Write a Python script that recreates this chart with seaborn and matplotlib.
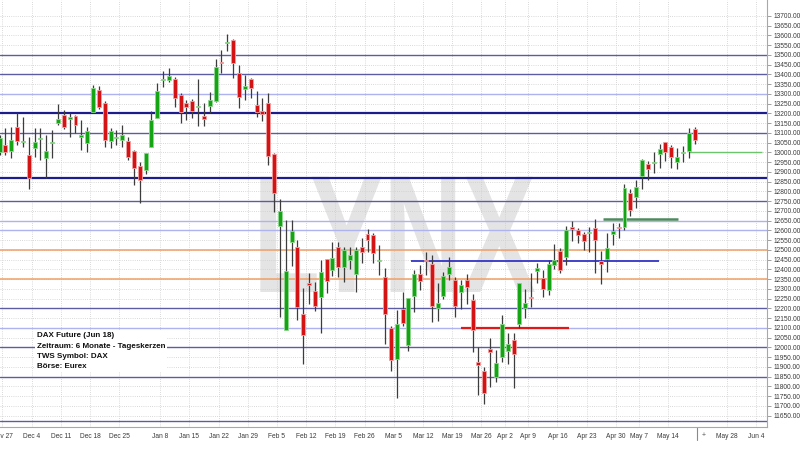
import numpy as np
import pandas as pd
import matplotlib
matplotlib.use("Agg")
import matplotlib.pyplot as plt
import seaborn as sns
from matplotlib.patheffects import AbstractPathEffect
from matplotlib.transforms import Affine2D, blended_transform_factory

# ---------------- data ----------------
start_date = "2017-11-24"
end_calendar = "2018-06-15"
holidays = ["2017-12-25", "2017-12-26", "2018-01-01", "2018-03-30", "2018-04-02", "2018-05-01"]

opens = [13004, 13038, 13008, 13133, 13056, 12987, 13021, 13068, 12973, 13047,
         13151, 13192, 13172, 13187, 13078, 13047, 13209, 13320, 13252, 13059,
         13073, 13064, 13059, 13009, 12932, 12910, 13030, 13179, 13374, 13372,
         13377, 13295, 13256, 13266, 13233, 13187, 13240, 13266, 13464, 13560,
         13577, 13406, 13327, 13375, 13244, 13213, 13256, 12992, 12623, 12090,
         12539, 12514, 12172, 12333, 12292, 12261, 12452, 12398, 12514, 12415,
         12449, 12377, 12514, 12580, 12577, 12442, 12363, 12102, 11941, 12196,
         12013, 12264, 12375, 12449, 12426, 12201, 12264, 12375, 12346, 12286,
         12346, 12244, 11927, 11881, 11992, 11847, 11950, 11984, 12038, 12119,
         12201, 12257, 12394, 12355, 12295, 12423, 12497, 12466, 12620, 12603,
         12582, 12587, 12614, 12445, 12455, 12580, 12619, 12620, 12791, 12770,
         12881, 12939, 12948, 12991, 13052, 13030, 12950, 12996, 13009, 13120]
highs = [13090, 13124, 13133, 13201, 13184, 13081, 13124, 13124, 13090, 13115,
         13249, 13218, 13201, 13192, 13167, 13133, 13345, 13340, 13264, 13124,
         13115, 13141, 13078, 13012, 12953, 12998, 13213, 13355, 13418, 13432,
         13389, 13303, 13269, 13273, 13377, 13256, 13312, 13478, 13526, 13606,
         13580, 13449, 13397, 13380, 13317, 13278, 13307, 12995, 12760, 12654,
         12654, 12551, 12303, 12384, 12338, 12449, 12455, 12539, 12539, 12514,
         12514, 12514, 12560, 12608, 12585, 12526, 12409, 12110, 12192, 12286,
         12255, 12397, 12423, 12488, 12474, 12332, 12389, 12462, 12363, 12346,
         12375, 12274, 12004, 11902, 12047, 11987, 12167, 12073, 12073, 12332,
         12300, 12380, 12432, 12398, 12449, 12531, 12509, 12625, 12650, 12611,
         12594, 12620, 12657, 12497, 12585, 12637, 12637, 12838, 12811, 12859,
         12967, 12958, 13004, 13042, 13055, 13038, 13025, 13035, 13124, 13132]
lows = [12987, 12987, 12970, 13038, 13027, 12813, 12979, 12962, 12868, 12970,
        13141, 13119, 13081, 13098, 13013, 13004, 13200, 13222, 13030, 13021,
        13038, 13026, 12962, 12833, 12743, 12890, 13027, 13175, 13338, 13360,
        13232, 13153, 13167, 13175, 13136, 13136, 13201, 13261, 13409, 13522,
        13380, 13226, 13269, 13278, 13180, 13163, 12936, 12697, 12155, 12088,
        12418, 12141, 11914, 12223, 12189, 12076, 12278, 12368, 12363, 12338,
        12403, 12286, 12435, 12488, 12432, 12372, 12018, 11881, 11739, 12110,
        11982, 12184, 12295, 12372, 12129, 12138, 12247, 12346, 12158, 12196,
        12223, 11977, 11756, 11709, 11799, 11825, 11927, 11914, 11794, 12102,
        12150, 12209, 12329, 12261, 12269, 12401, 12380, 12423, 12548, 12534,
        12500, 12491, 12384, 12326, 12389, 12526, 12560, 12603, 12674, 12714,
        12813, 12859, 12893, 12922, 12958, 12922, 12914, 12953, 12973, 13042]
closes = [13073, 13001, 13064, 13059, 13061, 12871, 13055, 13073, 13008, 13052,
          13172, 13133, 13180, 13141, 13090, 13110, 13330, 13232, 13064, 13110,
          13081, 13088, 12975, 12922, 12859, 12996, 13167, 13317, 13377, 13394,
          13281, 13208, 13235, 13215, 13236, 13170, 13269, 13440, 13459, 13565,
          13461, 13286, 13341, 13332, 13209, 13197, 12982, 12791, 12700, 12392,
          12597, 12206, 12064, 12319, 12213, 12385, 12343, 12457, 12411, 12500,
          12473, 12500, 12491, 12551, 12486, 12449, 12170, 11936, 12121, 12124,
          12252, 12375, 12343, 12441, 12213, 12230, 12367, 12415, 12214, 12320,
          12312, 12090, 11910, 11765, 11979, 11919, 12121, 12016, 11965, 12329,
          12227, 12252, 12406, 12300, 12427, 12449, 12397, 12603, 12606, 12577,
          12548, 12592, 12551, 12426, 12512, 12597, 12611, 12820, 12705, 12825,
          12961, 12915, 12953, 13018, 13001, 12979, 12975, 13001, 13098, 13064]

week_dates = ["2017-11-27", "2017-12-04", "2017-12-11", "2017-12-18", "2017-12-25",
              "2018-01-08", "2018-01-15", "2018-01-22", "2018-01-29", "2018-02-05",
              "2018-02-12", "2018-02-19", "2018-02-26", "2018-03-05", "2018-03-12",
              "2018-03-19", "2018-03-26", "2018-04-02", "2018-04-09", "2018-04-16",
              "2018-04-23", "2018-04-30", "2018-05-07", "2018-05-14", "2018-05-28",
              "2018-06-04"]
today_date = "2018-05-21"

# support / resistance levels
levels_thick = [13200, 12870]
levels_dark = [13500, 13400, 13100, 12750, 12200, 12000, 11850, 11625]
levels_light = [13300, 12650, 12600, 12100]
levels_orange = [12500, 12350]
# partial levels: value, start index, end index, colour, width
partial_levels = [(13000, 118.0, 130.5, "#6cc46c", 1.0),
                  (12657, 103.4, 116.2, "#4f8a5f", 1.8),
                  (12445, 70.4, 112.9, "#3434c4", 1.3),
                  (12100, 79.0, 97.5, "#e01818", 1.6)]

info_lines = ["DAX Future (Jun 18)", "Zeitraum: 6 Monate - Tageskerzen",
              "TWS Symbol: DAX", "Börse: Eurex"]

# ---------------- calendar ----------------
days = pd.bdate_range(start_date, end_calendar)
days = days[~days.isin(pd.to_datetime(holidays))]
n = len(opens)
df = pd.DataFrame({"date": days[:n], "open": opens, "high": highs,
                   "low": lows, "close": closes})
df["x"] = np.arange(n)
df["up"] = df["close"] >= df["open"]


def day_boundary(d):
    return np.searchsorted(days, pd.Timestamp(d)) - 0.5


tick_pos = [day_boundary(d) for d in week_dates]
tick_lab = [pd.Timestamp(d).strftime("%b ") + str(pd.Timestamp(d).day) for d in week_dates]

# ---------------- style ----------------
sns.set_theme(style="white")
plt.rcParams["font.family"] = ["Liberation Sans", "DejaVu Sans"]

fig = plt.figure(figsize=(8, 4.5), dpi=100)
ax = fig.add_axes([0, 23 / 450, 767 / 800, 427 / 450])
ax.set_facecolor("white")

ax.set_xlim(0.075, 131.4)
ax.set_ylim(11592, 13782)

# watermark, rendered condensed via a path effect (still real text)
class StretchX(AbstractPathEffect):
    def __init__(self, sx):
        super().__init__()
        self._sx = sx

    def draw_path(self, renderer, gc, tpath, affine, rgbFace=None):
        renderer.draw_path(gc, tpath, Affine2D().scale(self._sx, 1.0) + affine, rgbFace)


ax.text(253 / 767, (427 - 292) / 427, "LYNX", transform=ax.transAxes,
        ha="left", va="baseline", fontsize=120.7, fontweight="bold",
        color="#e4e4e4", zorder=0.2, path_effects=[StretchX(0.655)])

# grid
ax.set_yticks(np.arange(11650, 13701, 50))
ax.set_yticklabels([f"{v:.2f}" for v in np.arange(11650, 13701, 50)])
ax.set_xticks(tick_pos)
ax.set_xticklabels(tick_lab)
ax.yaxis.tick_right()
ax.grid(True, color="#cdcdcd", linestyle=(0, (1, 1.6)), linewidth=0.6)
ax.set_axisbelow(True)

for s in ["left", "top"]:
    ax.spines[s].set_visible(False)
for s in ["right", "bottom"]:
    ax.spines[s].set_color("#a8a8a8")
    ax.spines[s].set_linewidth(0.8)

ax.tick_params(axis="y", direction="out", length=3, width=0.6, color="#909090",
               labelsize=4.8, labelcolor="#3a3a3a", pad=1.5)
ax.tick_params(axis="x", length=0, labelsize=4.8, labelcolor="#3a3a3a", pad=4)

# levels
for v in levels_dark:
    ax.axhline(v, color="#5c5ca4", lw=1.0, zorder=2)
for v in levels_light:
    ax.axhline(v, color="#aeb2ee", lw=1.0, zorder=2)
for v in levels_thick:
    ax.axhline(v, color="#1c1c8c", lw=1.6, zorder=2)
for v in levels_orange:
    ax.axhline(v, color="#f0a068", lw=1.1, zorder=2)
for v, x0, x1, c, w in partial_levels:
    ax.hlines(v, x0, x1, color=c, lw=w, zorder=2.5)

# candles
ax.vlines(df["x"], df["low"], df["high"], color="#3c3c3c", lw=0.9, zorder=3)
body_lo = np.minimum(df["open"], df["close"])
body_h = np.maximum(np.abs(df["close"] - df["open"]), 5)
up = df["up"].values
ax.bar(df["x"][up], body_h[up], bottom=body_lo[up], width=0.68,
       color="#14a414", edgecolor="#8fd68f", linewidth=0.6, zorder=4)
ax.bar(df["x"][~up], body_h[~up], bottom=body_lo[~up], width=0.68,
       color="#d41414", edgecolor="#f2a0a0", linewidth=0.6, zorder=4)

# today marker below the axis
bt = blended_transform_factory(ax.transData, ax.transAxes)
tx = day_boundary(today_date)
ax.plot([tx, tx], [0, -0.03], transform=bt, color="#8a8a8a", lw=0.8, clip_on=False)
ax.text(tx + 1.0, -0.012, "+", transform=bt, ha="center", va="top",
        fontsize=5, color="#555555", clip_on=False)

# info box
fig.text(36.7 / 800, 1 - 332 / 450, "\n".join(info_lines), ha="left", va="top",
         fontsize=5.8, fontweight="bold", color="#111111", linespacing=1.7,
         bbox=dict(facecolor="white", edgecolor="none", pad=1.2), zorder=5)

fig.savefig("out.png", dpi=100)
